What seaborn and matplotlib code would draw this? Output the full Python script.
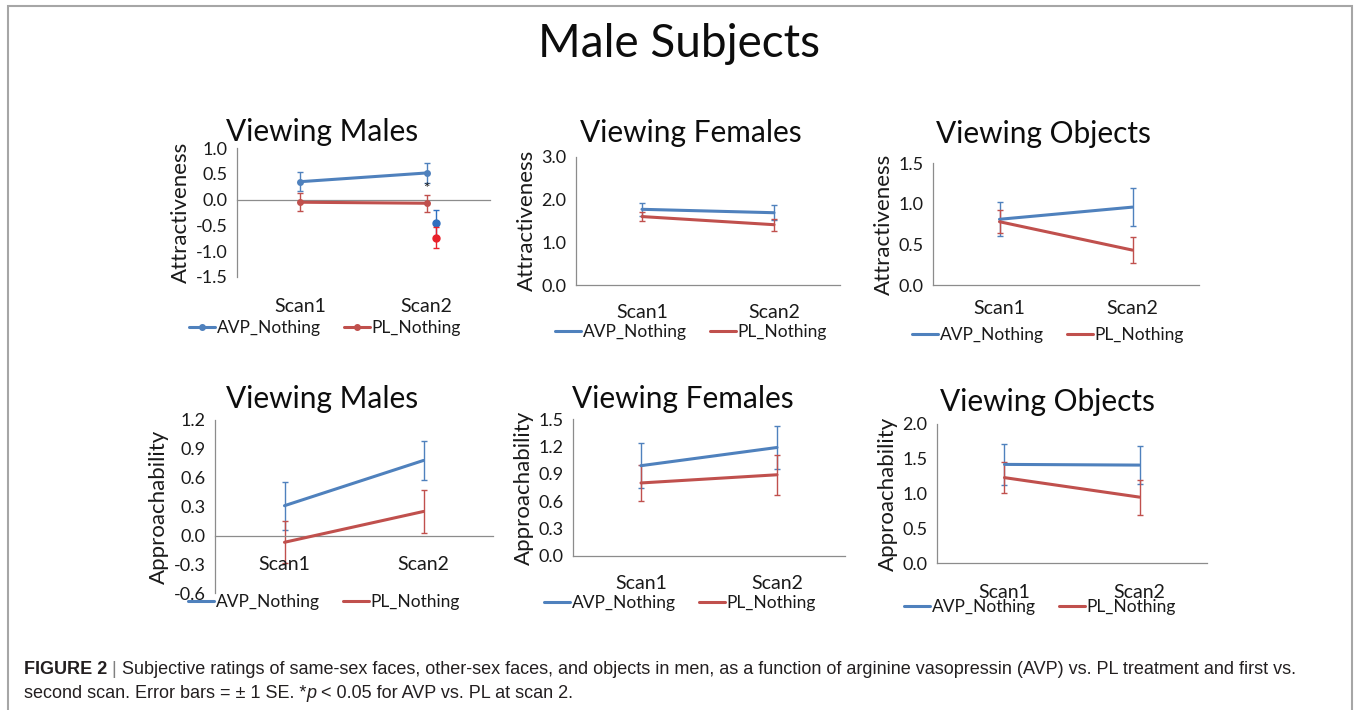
import numpy as np
import pandas as pd
import matplotlib
matplotlib.use("Agg")
import matplotlib.pyplot as plt
import seaborn as sns
from matplotlib.lines import Line2D
from matplotlib.patches import Rectangle

sns.set_style("white")
plt.rcParams["font.family"] = ["Lato", "DejaVu Sans"]

# ---------------- data ----------------
scans = ["Scan1", "Scan2"]
treatments = ["AVP_Nothing", "PL_Nothing"]
panel_titles = ["Viewing Males", "Viewing Females", "Viewing Objects",
                "Viewing Males", "Viewing Females", "Viewing Objects"]
ylabels = ["Attractiveness"] * 3 + ["Approachability"] * 3

avp_attr_males = [0.35, 0.52]
avp_attr_males_se = [0.18, 0.19]
pl_attr_males = [-0.05, -0.07]
pl_attr_males_se = [0.17, 0.17]
extra_avp_attr_males = -0.46
extra_avp_attr_males_se = 0.26
extra_pl_attr_males = -0.74
extra_pl_attr_males_se = 0.20

avp_attr_females = [1.77, 1.69]
avp_attr_females_se = [0.15, 0.17]
pl_attr_females = [1.60, 1.41]
pl_attr_females_se = [0.10, 0.14]

avp_attr_objects = [0.81, 0.96]
avp_attr_objects_se = [0.21, 0.23]
pl_attr_objects = [0.78, 0.43]
pl_attr_objects_se = [0.14, 0.16]

avp_appr_males = [0.31, 0.78]
avp_appr_males_se = [0.25, 0.20]
pl_appr_males = [-0.07, 0.25]
pl_appr_males_se = [0.22, 0.22]

avp_appr_females = [0.99, 1.19]
avp_appr_females_se = [0.25, 0.24]
pl_appr_females = [0.80, 0.89]
pl_appr_females_se = [0.20, 0.22]

avp_appr_objects = [1.42, 1.41]
avp_appr_objects_se = [0.29, 0.27]
pl_appr_objects = [1.23, 0.95]
pl_appr_objects_se = [0.22, 0.25]

yticks_list = [
    [-1.5, -1.0, -0.5, 0.0, 0.5, 1.0],
    [0.0, 1.0, 2.0, 3.0],
    [0.0, 0.5, 1.0, 1.5],
    [-0.6, -0.3, 0.0, 0.3, 0.6, 0.9, 1.2],
    [0.0, 0.3, 0.6, 0.9, 1.2, 1.5],
    [0.0, 0.5, 1.0, 1.5, 2.0],
]

series = [
    (avp_attr_males, avp_attr_males_se, pl_attr_males, pl_attr_males_se),
    (avp_attr_females, avp_attr_females_se, pl_attr_females, pl_attr_females_se),
    (avp_attr_objects, avp_attr_objects_se, pl_attr_objects, pl_attr_objects_se),
    (avp_appr_males, avp_appr_males_se, pl_appr_males, pl_appr_males_se),
    (avp_appr_females, avp_appr_females_se, pl_appr_females, pl_appr_females_se),
    (avp_appr_objects, avp_appr_objects_se, pl_appr_objects, pl_appr_objects_se),
]

# ---------------- layout (pixels) ----------------
W, H = 1356, 710
BLUE = "#4F81BD"
RED = "#C0504D"
TXT = "#1a1a1a"
AX = "#8c8c8c"

# x0, x1, ytop, ybottom of plot areas
boxes = [
    (237, 490, 148.3, 276.7),
    (576, 840, 156.7, 285.0),
    (933, 1199, 163.3, 285.0),
    (215, 493, 420.0, 593.3),
    (573, 845, 419.3, 555.7),
    (937, 1207, 424.0, 563.3),
]
title_pos = [(322, 132), (691, 133), (1043, 134), (322, 399), (683, 399), (1047, 402)]
legend_pos = [(325, 328), (691, 332), (1048, 335), (324, 602), (680, 603), (1040, 607)]
label_offset = [30, 27, 24, 29, 28, 29]
label_at_bottom = [True, False, False, False, False, False]
markers = [True, False, False, False, False, False]

fig = plt.figure(figsize=(W / 100, H / 100), dpi=100)

def fx(x):
    return x / W

def fy(y):
    return 1 - y / H

for i in range(6):
    x0, x1, yt, yb = boxes[i]
    ax = fig.add_axes([fx(x0), fy(yb), (x1 - x0) / W, (yb - yt) / H])
    avp, avp_se, pl, pl_se = series[i]
    df = pd.DataFrame({
        "pos": list(range(len(scans))) * 2,
        "value": list(avp) + list(pl),
        "treatment": [treatments[0]] * len(scans) + [treatments[1]] * len(scans),
    })
    for vals, se, col in [(avp, avp_se, BLUE), (pl, pl_se, RED)]:
        ax.errorbar(range(len(scans)), vals, yerr=se, fmt="none", ecolor=col,
                    elinewidth=1.0, capsize=2.5, capthick=1.0, zorder=2)
    sns.lineplot(data=df, x="pos", y="value", hue="treatment",
                 palette=[BLUE, RED], linewidth=2.2, ax=ax, legend=False,
                 marker="o" if markers[i] else None,
                 markersize=5, markeredgewidth=0, zorder=3)
    yt_ = yticks_list[i]
    ax.set_ylim(yt_[0], yt_[-1])
    ax.set_xlim(-0.5, len(scans) - 0.5)
    ax.set_yticks(yt_)
    ax.set_yticklabels([f"{v:.1f}" for v in yt_])
    ax.set_xticks(np.arange(-0.5, len(scans), 1.0))
    ax.set_xticklabels([])
    for s in ["top", "right"]:
        ax.spines[s].set_visible(False)
    ax.spines["left"].set_color(AX)
    ax.spines["bottom"].set_color(AX)
    ax.spines["left"].set_linewidth(0.9)
    ax.spines["bottom"].set_linewidth(0.9)
    if yt_[0] < 0:
        ax.spines["bottom"].set_position(("data", 0))
    ax.tick_params(axis="y", direction="out", length=4, width=0.9, color=AX,
                   labelsize=13, labelcolor=TXT, pad=3)
    ax.tick_params(axis="x", direction="out", length=4, width=0.9, color=AX)
    ax.set_xlabel("")
    ax.set_ylabel(ylabels[i], fontsize=16, color=TXT, labelpad=3)
    ax.patch.set_alpha(0)
    # category labels
    base = yt_[0] if label_at_bottom[i] else 0.0
    for k, s in enumerate(scans):
        ax.annotate(s, xy=(k, base), xytext=(0, -label_offset[i]),
                    textcoords="offset pixels", ha="center", va="center",
                    fontsize=14, color=TXT, annotation_clip=False)
    if i == 0:
        off = 0.074
        ax.errorbar([1 + off], [extra_avp_attr_males], yerr=[extra_avp_attr_males_se],
                    fmt="o", color="#2F6FBF", ms=5, elinewidth=1.0, capsize=2.5, zorder=4)
        ax.errorbar([1 + off], [extra_pl_attr_males], yerr=[extra_pl_attr_males_se],
                    fmt="o", color="#E8202A", ms=5, elinewidth=1.0, capsize=2.5, zorder=5)
        ax.text(1, 0.21, "*", ha="center", va="center", fontsize=11, color=TXT)
    # title
    fig.text(fx(title_pos[i][0]), fy(title_pos[i][1]), panel_titles[i],
             ha="center", va="center", fontsize=21.5, color="#0d0d0d")
    # legend
    handles = [Line2D([], [], color=c, lw=2.2, marker="o" if markers[i] else None, ms=4)
               for c in (BLUE, RED)]
    fig.legend(handles, treatments, loc="center",
               bbox_to_anchor=(fx(legend_pos[i][0]), fy(legend_pos[i][1])),
               ncol=2, frameon=False, fontsize=12.5, handlelength=1.5,
               handletextpad=0.1, columnspacing=1.3, borderpad=0, labelcolor=TXT)

fig.text(fx(679), fy(44), "Male Subjects", ha="center", va="center",
         fontsize=33, color="#0d0d0d")

# frame
fig.patches.append(Rectangle((fx(8), -0.05), (1352 - 8) / W, fy(6) + 0.05,
                             transform=fig.transFigure, fill=False,
                             edgecolor="#a6a6a6", lw=1.5))

# caption
cap_font = ["Liberation Sans", "DejaVu Sans"]
CAP = "#231f20"
cap_size = 13
renderer = fig.canvas.get_renderer()

def write_line(pieces, x, y):
    for txt, weight, style, color in pieces:
        t = fig.text(fx(x), fy(y), txt, ha="left", va="baseline", fontsize=cap_size,
                     family=cap_font, weight=weight, style=style, color=color)
        bb = t.get_window_extent(renderer=renderer)
        x = x + bb.width

write_line([("FIGURE 2 ", "bold", "normal", CAP),
            ("| ", "normal", "normal", "#808080"),
            ("Subjective ratings of same-sex faces, other-sex faces, and objects in men, as a function of arginine vasopressin (AVP) vs. PL treatment and first vs.",
             "normal", "normal", CAP)], 24, 674)
write_line([("second scan. Error bars = \u00b1 1 SE. *", "normal", "normal", CAP),
            ("p", "normal", "italic", CAP),
            (" < 0.05 for AVP vs. PL at scan 2.", "normal", "normal", CAP)], 24, 698)

fig.savefig("out.png", dpi=100)
